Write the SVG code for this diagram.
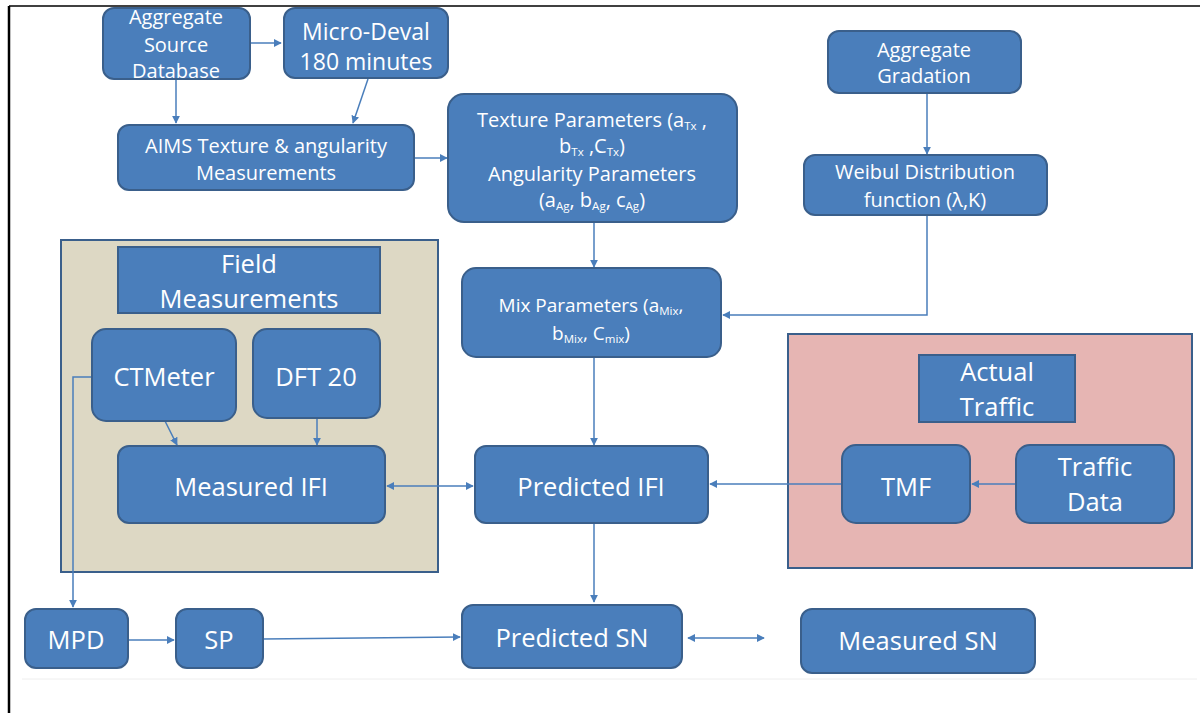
<svg xmlns="http://www.w3.org/2000/svg" width="1203" height="713" viewBox="0 0 1203 713">
<defs>
<marker id="ah" viewBox="0 0 10 10" refX="9" refY="5" markerWidth="8" markerHeight="8" markerUnits="userSpaceOnUse" orient="auto-start-reverse">
<path d="M0,0 L10,5 L0,10 z" fill="#4a7ebb"/>
</marker>
<style>
.n{fill:#4a7ebb;stroke:#3a5f8b;stroke-width:2}
.t{font-family:"Open Sans","Liberation Sans",sans-serif;fill:#ffffff;text-anchor:middle}
.c{fill:none;stroke:#4a7ebb;stroke-width:1.5}
.b{font-size:25.5px}
.m{font-size:20px}
.s{font-size:11.5px}
</style>
</defs>
<rect width="1203" height="713" fill="#ffffff"/>
<line x1="9" y1="6" x2="1200" y2="6" stroke="#000" stroke-width="1.5"/>
<line x1="9" y1="6" x2="9" y2="713" stroke="#000" stroke-width="2.5"/>
<line x1="22" y1="679" x2="1197" y2="679" stroke="#eeeeee" stroke-width="1"/>

<g id="field-container">
<rect x="61" y="240" width="377" height="332" fill="#ddd8c4" stroke="#3a5f8b" stroke-width="2"/>
</g>
<g id="traffic-container">
<rect x="788" y="334" width="404" height="234" fill="#e6b5b3" stroke="#3a5f8b" stroke-width="2"/>
</g>

<g id="connectors">
<path class="c" d="M250,43 H281" marker-end="url(#ah)"/>
<path class="c" d="M176,79 V123" marker-end="url(#ah)"/>
<path class="c" d="M368,79 L353,123" marker-end="url(#ah)"/>
<path class="c" d="M414,158 H447" marker-end="url(#ah)"/>
<path class="c" d="M927,93 V154" marker-end="url(#ah)"/>
<path class="c" d="M594,222 V267" marker-end="url(#ah)"/>
<path class="c" d="M927,215 V315 H723" marker-end="url(#ah)"/>
<path class="c" d="M594,357 V445" marker-end="url(#ah)"/>
<path class="c" d="M594,523 V602" marker-end="url(#ah)"/>
<path class="c" d="M165,421 L177,445" marker-end="url(#ah)"/>
<path class="c" d="M317,418 V445" marker-end="url(#ah)"/>
<path class="c" d="M387,486 H473" marker-start="url(#ah)" marker-end="url(#ah)"/>
<path class="c" d="M92,377 H73 V607" marker-end="url(#ah)"/>
<path class="c" d="M128,640 H174" marker-end="url(#ah)"/>
<path class="c" d="M263,639 L460,637" marker-end="url(#ah)"/>
<path class="c" d="M688,638 H764" marker-start="url(#ah)" marker-end="url(#ah)"/>
<path class="c" d="M1016,484 H972" marker-end="url(#ah)"/>
<path class="c" d="M842,484 H710" marker-end="url(#ah)"/>
</g>

<g id="aggregate-source-database">
<rect class="n" x="103" y="8" width="147" height="71" rx="11"/>
<text class="t m"><tspan x="176" y="24">Aggregate</tspan><tspan x="176" y="52">Source</tspan><tspan x="176" y="78">Database</tspan></text>
</g>
<g id="micro-deval">
<rect class="n" x="284" y="8" width="164" height="70" rx="11"/>
<text class="t" font-size="23"><tspan x="366" y="40">Micro-Deval</tspan><tspan x="366" y="70">180 minutes</tspan></text>
</g>
<g id="aims">
<rect class="n" x="118" y="125" width="296" height="65" rx="11"/>
<text class="t m"><tspan x="266" y="153">AIMS Texture &amp; angularity</tspan><tspan x="266" y="180">Measurements</tspan></text>
</g>
<g id="texture-parameters">
<rect class="n" x="448" y="94" width="289" height="128" rx="16"/>
<text class="t m"><tspan x="592" y="127">Texture Parameters (a<tspan class="s" dy="3">Tx</tspan><tspan dy="-3"> ,</tspan></tspan><tspan x="592" y="153">b<tspan class="s" dy="3">Tx</tspan><tspan dy="-3"> ,C</tspan><tspan class="s" dy="3">Tx</tspan><tspan dy="-3">)</tspan></tspan><tspan x="592" y="181">Angularity Parameters</tspan><tspan x="592" y="207">(a<tspan class="s" dy="3">Ag</tspan><tspan dy="-3">, b</tspan><tspan class="s" dy="3">Ag</tspan><tspan dy="-3">, c</tspan><tspan class="s" dy="3">Ag</tspan><tspan dy="-3">)</tspan></tspan></text>
</g>
<g id="aggregate-gradation">
<rect class="n" x="828" y="31" width="193" height="62" rx="11"/>
<text class="t m"><tspan x="924" y="57">Aggregate</tspan><tspan x="924" y="83">Gradation</tspan></text>
</g>
<g id="weibul">
<rect class="n" x="804" y="155" width="243" height="60" rx="11"/>
<text class="t m"><tspan x="925" y="179">Weibul Distribution</tspan><tspan x="925" y="207">function (λ,K)</tspan></text>
</g>
<g id="mix-parameters">
<rect class="n" x="462" y="268" width="259" height="89" rx="14"/>
<text class="t" font-size="19"><tspan x="591" y="312">Mix Parameters (a<tspan class="s" dy="3">Mix</tspan><tspan dy="-3">,</tspan></tspan><tspan x="591" y="340">b<tspan class="s" dy="3">Mix</tspan><tspan dy="-3">, C</tspan><tspan class="s" dy="3">mix</tspan><tspan dy="-3">)</tspan></tspan></text>
</g>
<g id="predicted-ifi">
<rect class="n" x="475" y="446" width="233" height="77" rx="11"/>
<text class="t b" x="591" y="496">Predicted IFI</text>
</g>
<g id="field-measurements">
<rect class="n" x="118" y="247" width="262" height="66"/>
<text class="t b"><tspan x="249" y="273">Field</tspan><tspan x="249" y="308">Measurements</tspan></text>
</g>
<g id="ctmeter">
<rect class="n" x="92" y="329" width="144" height="92" rx="14"/>
<text class="t b" x="164" y="386">CTMeter</text>
</g>
<g id="dft20">
<rect class="n" x="253" y="329" width="127" height="89" rx="14"/>
<text class="t b" x="316" y="386">DFT 20</text>
</g>
<g id="measured-ifi">
<rect class="n" x="118" y="446" width="267" height="77" rx="11"/>
<text class="t b" x="251" y="496">Measured IFI</text>
</g>
<g id="actual-traffic">
<rect class="n" x="919" y="355" width="156" height="67"/>
<text class="t b"><tspan x="997" y="381">Actual</tspan><tspan x="997" y="416">Traffic</tspan></text>
</g>
<g id="tmf">
<rect class="n" x="842" y="445" width="128" height="78" rx="14"/>
<text class="t b" x="906" y="496">TMF</text>
</g>
<g id="traffic-data">
<rect class="n" x="1016" y="445" width="158" height="78" rx="14"/>
<text class="t b"><tspan x="1095" y="476">Traffic</tspan><tspan x="1095" y="511">Data</tspan></text>
</g>
<g id="mpd">
<rect class="n" x="25" y="609" width="103" height="59" rx="11"/>
<text class="t b" x="76" y="649">MPD</text>
</g>
<g id="sp">
<rect class="n" x="176" y="609" width="87" height="59" rx="11"/>
<text class="t b" x="219" y="649">SP</text>
</g>
<g id="predicted-sn">
<rect class="n" x="462" y="605" width="220" height="63" rx="11"/>
<text class="t b" x="572" y="647">Predicted SN</text>
</g>
<g id="measured-sn">
<rect class="n" x="801" y="609" width="234" height="64" rx="11"/>
<text class="t b" x="918" y="650">Measured SN</text>
</g>
</svg>
